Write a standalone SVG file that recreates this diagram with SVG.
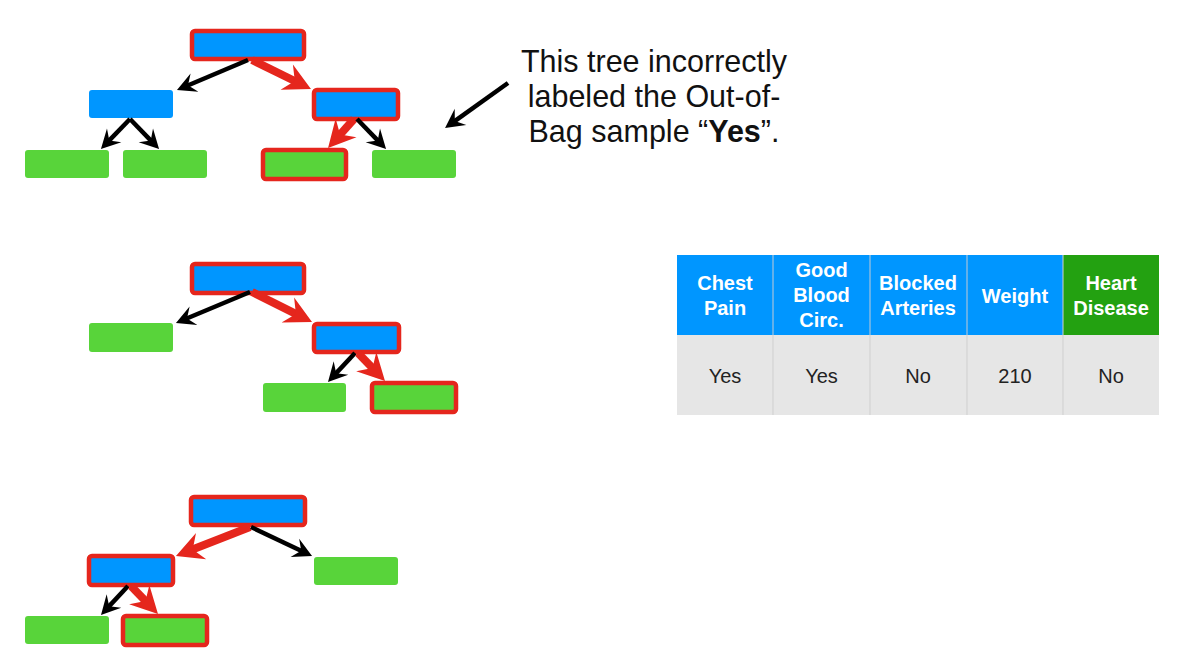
<svg xmlns="http://www.w3.org/2000/svg" width="1177" height="667" viewBox="0 0 1177 667">
<style>
.int{fill:#0096FF}
.leaf{fill:#58D43A}
.hl{stroke:#E5261D;stroke-width:4.5}
.bk{stroke:#000;stroke-width:4.5;fill:none}
.rd{stroke:#E5261D;stroke-width:8;fill:none}
.note{font-family:"Liberation Sans",Arial,sans-serif;font-size:30.5px;fill:#111}
.th{font-family:"Liberation Sans",Arial,sans-serif;font-size:20px;font-weight:bold;fill:#fff;text-anchor:middle}
.td{font-family:"Liberation Sans",Arial,sans-serif;font-size:20px;fill:#222;text-anchor:middle}
</style>
<defs>
<marker id="hb" markerUnits="userSpaceOnUse" orient="auto" refX="-11" refY="0" overflow="visible" markerWidth="1" markerHeight="1">
<path d="M0,0 L-19,-10 L-12,0 L-19,10 Z" fill="#000"/>
</marker>
<marker id="hr" markerUnits="userSpaceOnUse" orient="auto" refX="-17" refY="0" overflow="visible" markerWidth="1" markerHeight="1">
<path d="M0,0 L-27,-14 L-18,0 L-27,14 Z" fill="#E5261D"/>
</marker>
</defs>
<rect width="1177" height="667" fill="#fff"/>

<!-- Tree 1 -->
<g id="t1-root"><rect x="192" y="31" width="112" height="28" rx="3" class="int hl"/></g>
<g id="t1-left"><rect x="89" y="90" width="84" height="28" rx="3" class="int"/></g>
<g id="t1-right"><rect x="314" y="90" width="84" height="29" rx="3" class="int hl"/></g>
<g id="t1-leaf1"><rect x="25" y="150" width="84" height="28" rx="3" class="leaf"/></g>
<g id="t1-leaf2"><rect x="123" y="150" width="84" height="28" rx="3" class="leaf"/></g>
<g id="t1-leaf3"><rect x="263" y="150" width="83" height="29" rx="3" class="leaf hl"/></g>
<g id="t1-leaf4"><rect x="372" y="150" width="84" height="28" rx="3" class="leaf"/></g>

<!-- Tree 2 -->
<g id="t2-root"><rect x="192" y="264" width="112" height="29" rx="3" class="int hl"/></g>
<g id="t2-leaf1"><rect x="89" y="323" width="84" height="29" rx="3" class="leaf"/></g>
<g id="t2-right"><rect x="314" y="324" width="85" height="28" rx="3" class="int hl"/></g>
<g id="t2-leaf2"><rect x="263" y="383" width="83" height="29" rx="3" class="leaf"/></g>
<g id="t2-leaf3"><rect x="372" y="383" width="84" height="29" rx="3" class="leaf hl"/></g>

<!-- Tree 3 -->
<g id="t3-root"><rect x="191" y="497" width="114" height="28" rx="3" class="int hl"/></g>
<g id="t3-left"><rect x="89" y="556" width="84" height="29" rx="3" class="int hl"/></g>
<g id="t3-leaf1"><rect x="314" y="557" width="84" height="28" rx="3" class="leaf"/></g>
<g id="t3-leaf2"><rect x="25" y="616" width="84" height="28" rx="3" class="leaf"/></g>
<g id="t3-leaf3"><rect x="123" y="616" width="84" height="29" rx="3" class="leaf hl"/></g>

<!-- Connectors -->
<g id="connectors">
<line x1="248" y1="60" x2="187.1" y2="85.7" class="bk" marker-end="url(#hb)"/>
<line x1="252" y1="60" x2="295.7" y2="81.5" class="rd" marker-end="url(#hr)"/>
<line x1="130" y1="119" x2="108.6" y2="141.1" class="bk" marker-end="url(#hb)"/>
<line x1="130" y1="119" x2="151.4" y2="141.1" class="bk" marker-end="url(#hb)"/>
<line x1="354" y1="119" x2="339.4" y2="135.3" class="rd" marker-end="url(#hr)"/>
<line x1="357" y1="119" x2="378.4" y2="141.1" class="bk" marker-end="url(#hb)"/>

<line x1="250" y1="292" x2="186.1" y2="318.8" class="bk" marker-end="url(#hb)"/>
<line x1="252" y1="292" x2="296.8" y2="314.4" class="rd" marker-end="url(#hr)"/>
<line x1="355" y1="353" x2="335.5" y2="373.9" class="bk" marker-end="url(#hb)"/>
<line x1="358" y1="353" x2="373.2" y2="368.8" class="rd" marker-end="url(#hr)"/>

<line x1="250" y1="527" x2="191.8" y2="549.8" class="rd" marker-end="url(#hr)"/>
<line x1="251" y1="527" x2="302.1" y2="551.3" class="bk" marker-end="url(#hb)"/>
<line x1="128" y1="586" x2="108.5" y2="606.9" class="bk" marker-end="url(#hb)"/>
<line x1="131" y1="586" x2="146.2" y2="601.8" class="rd" marker-end="url(#hr)"/>

<line x1="508" y1="83" x2="454" y2="121.6" class="bk" marker-end="url(#hb)"/>
</g>

<!-- Callout text -->
<g id="note">
<text class="note" x="654" y="72" text-anchor="middle">This tree incorrectly</text>
<text class="note" x="654" y="107" text-anchor="middle">labeled the Out-of-</text>
<text class="note" x="654" y="142" text-anchor="middle">Bag sample “<tspan font-weight="bold">Yes</tspan>”.</text>
</g>

<!-- Table -->
<g id="table">
<rect x="677" y="255" width="386" height="80" fill="#0096FF"/>
<rect x="1063" y="255" width="96" height="80" fill="#23A111"/>
<rect x="677" y="335" width="482" height="80" fill="#E6E6E6"/>
<g stroke="#CFCFCF" stroke-width="1">
<line x1="773" y1="255" x2="773" y2="415"/>
<line x1="870" y1="255" x2="870" y2="415"/>
<line x1="967" y1="255" x2="967" y2="415"/>
<line x1="1063" y1="255" x2="1063" y2="415"/>
</g>
<g stroke="#5AAEF0" stroke-width="0.8">
<line x1="773" y1="255" x2="773" y2="335"/>
<line x1="870" y1="255" x2="870" y2="335"/>
<line x1="967" y1="255" x2="967" y2="335"/>
</g>
<text class="th" x="725" y="290">Chest</text>
<text class="th" x="725" y="315">Pain</text>
<text class="th" x="821.5" y="277">Good</text>
<text class="th" x="821.5" y="302">Blood</text>
<text class="th" x="821.5" y="327">Circ.</text>
<text class="th" x="918" y="290">Blocked</text>
<text class="th" x="918" y="315">Arteries</text>
<text class="th" x="1015" y="303">Weight</text>
<text class="th" x="1111" y="290">Heart</text>
<text class="th" x="1111" y="315">Disease</text>
<text class="td" x="725" y="383">Yes</text>
<text class="td" x="821.5" y="383">Yes</text>
<text class="td" x="918" y="383">No</text>
<text class="td" x="1015" y="383">210</text>
<text class="td" x="1111" y="383">No</text>
</g>
</svg>
